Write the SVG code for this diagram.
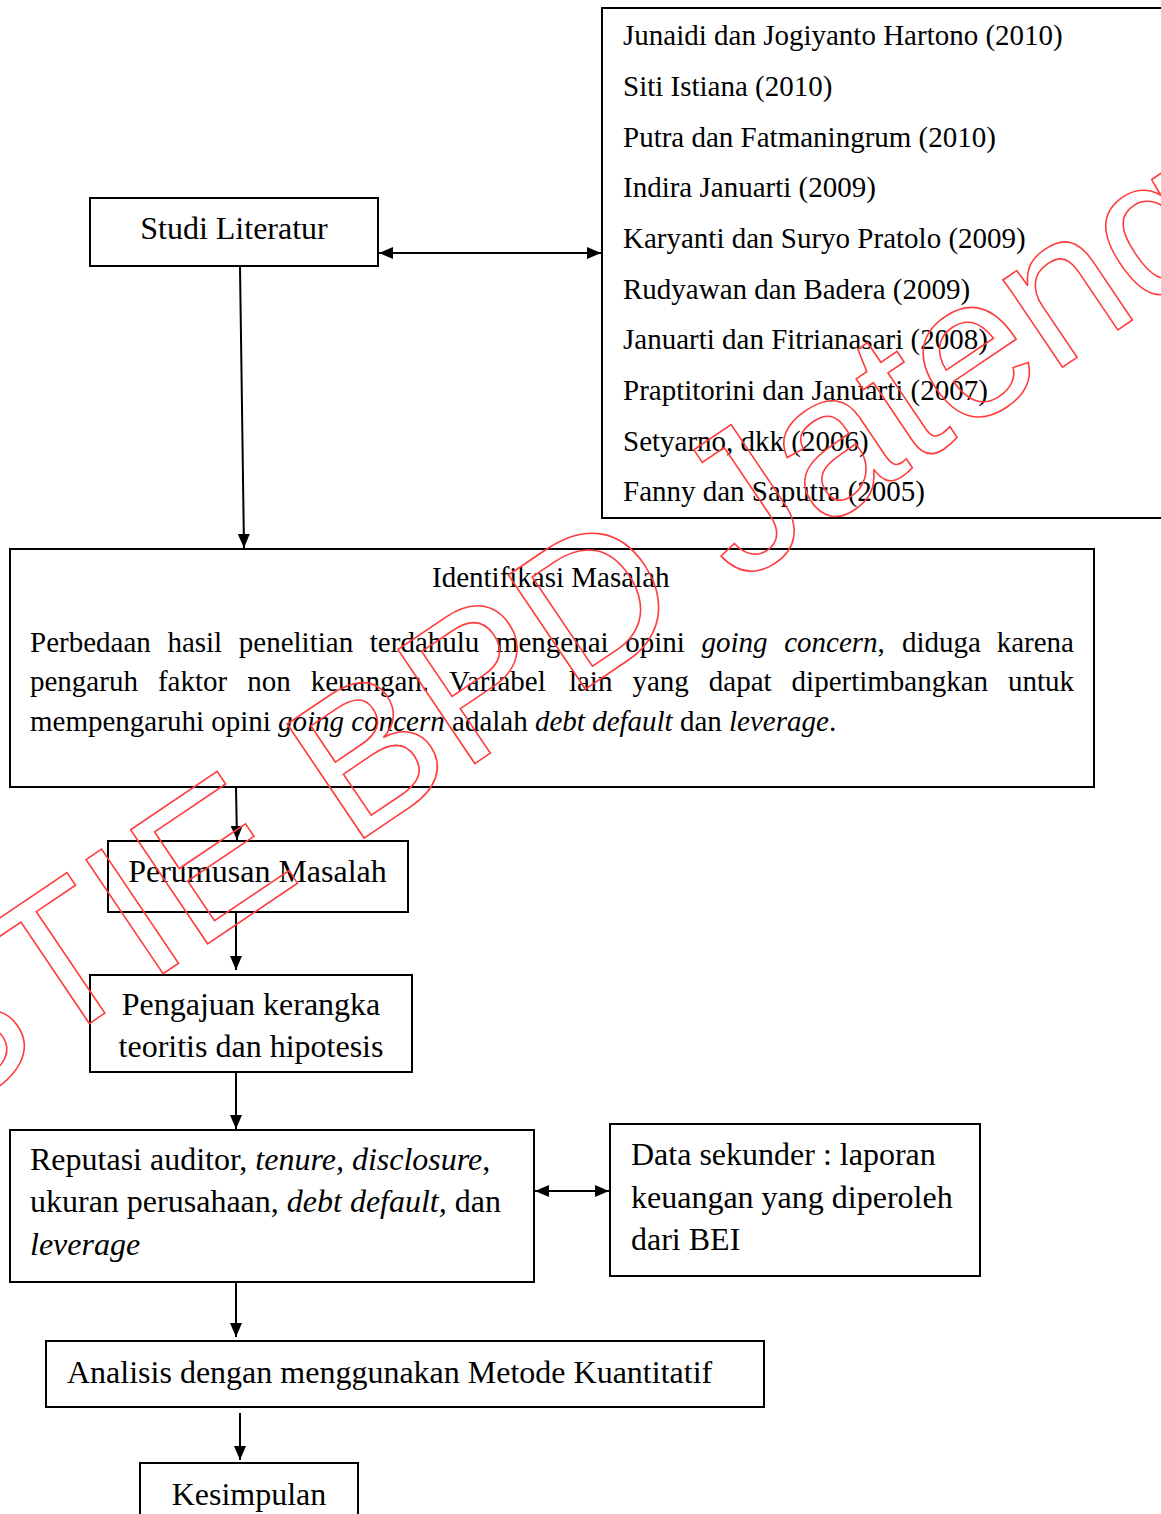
<svg xmlns="http://www.w3.org/2000/svg" width="1161" height="1514" viewBox="0 0 1161 1514">
<style>
.box{fill:#fff;stroke:#000;stroke-width:2}
.t{font-family:"Liberation Serif","Times New Roman",serif;fill:#000}
.s29{font-size:29px}
.s32{font-size:32px}
.i{font-style:italic}
.c{stroke:#000;stroke-width:2;fill:none}
.wm{font-family:"Liberation Sans",Arial,sans-serif;font-size:200px;fill:none;stroke:#ff3d3d;stroke-width:1.6}
</style>
<defs>
<marker id="ah" markerUnits="userSpaceOnUse" markerWidth="14" markerHeight="12" refX="14" refY="6" orient="auto-start-reverse">
<path d="M0,0 L14,6 L0,12 z" fill="#000"/>
</marker>
</defs>
<rect width="1161" height="1514" fill="#fff"/>

<g id="studi-literatur">
<rect class="box" x="90" y="198" width="288" height="68"/>
<text class="t s32" x="234" y="239" text-anchor="middle">Studi Literatur</text>
</g>

<g id="referensi">
<rect class="box" x="602" y="8" width="600" height="510"/>
<text class="t s29" x="623" y="45">Junaidi dan Jogiyanto Hartono (2010)</text>
<text class="t s29" x="623" y="96">Siti Istiana (2010)</text>
<text class="t s29" x="623" y="147">Putra dan Fatmaningrum (2010)</text>
<text class="t s29" x="623" y="197">Indira Januarti (2009)</text>
<text class="t s29" x="623" y="248">Karyanti dan Suryo Pratolo (2009)</text>
<text class="t s29" x="623" y="299">Rudyawan dan Badera (2009)</text>
<text class="t s29" x="623" y="349">Januarti dan Fitrianasari (2008)</text>
<text class="t s29" x="623" y="400">Praptitorini dan Januarti (2007)</text>
<text class="t s29" x="623" y="451">Setyarno, dkk (2006)</text>
<text class="t s29" x="623" y="501">Fanny dan Saputra (2005)</text>
</g>

<g id="identifikasi-masalah">
<rect class="box" x="10" y="549" width="1084" height="238"/>
<text class="t s29" x="432" y="587">Identifikasi Masalah</text>
<text class="t s29" y="652"><tspan x="30">Perbedaan</tspan><tspan x="167.4">hasil</tspan><tspan x="238.8">penelitian</tspan><tspan x="369.8">terdahulu</tspan><tspan x="495.9">mengenai</tspan><tspan x="625.3">opini</tspan><tspan x="701.5" class="i">going</tspan><tspan x="784.2"><tspan class="i">concern</tspan>,</tspan><tspan x="902">diduga</tspan><tspan x="1074" text-anchor="end">karena</tspan></text>
<text class="t s29" y="691"><tspan x="30">pengaruh</tspan><tspan x="157.9">faktor</tspan><tspan x="247.2">non</tspan><tspan x="310.7">keuangan.</tspan><tspan x="449.1">Variabel</tspan><tspan x="568.9">lain</tspan><tspan x="632.4">yang</tspan><tspan x="708.8">dapat</tspan><tspan x="791.6">dipertimbangkan</tspan><tspan x="1074" text-anchor="end">untuk</tspan></text>
<text class="t s29" x="30" y="731">mempengaruhi opini <tspan class="i">going concern</tspan> adalah <tspan class="i">debt default</tspan> dan <tspan class="i">leverage</tspan>.</text>
</g>

<g id="perumusan-masalah">
<rect class="box" x="108" y="841" width="300" height="71"/>
<text class="t s32" x="257.5" y="882" text-anchor="middle">Perumusan Masalah</text>
</g>

<g id="pengajuan">
<rect class="box" x="90" y="975" width="322" height="97"/>
<text class="t s32" x="251" y="1015" text-anchor="middle">Pengajuan kerangka</text>
<text class="t s32" x="251" y="1057" text-anchor="middle">teoritis dan hipotesis</text>
</g>

<g id="variabel">
<rect class="box" x="10" y="1130" width="524" height="152"/>
<text class="t s32" x="30" y="1170">Reputasi auditor, <tspan class="i">tenure, disclosure</tspan>,</text>
<text class="t s32" x="30" y="1212">ukuran perusahaan, <tspan class="i">debt default,</tspan> dan</text>
<text class="t s32 i" x="30" y="1255">leverage</text>
</g>

<g id="data-sekunder">
<rect class="box" x="610" y="1124" width="370" height="152"/>
<text class="t s32" x="631" y="1165">Data sekunder : laporan</text>
<text class="t s32" x="631" y="1208">keuangan yang diperoleh</text>
<text class="t s32" x="631" y="1250">dari BEI</text>
</g>

<g id="analisis">
<rect class="box" x="46" y="1341" width="718" height="66"/>
<text class="t s32" x="67" y="1383">Analisis dengan menggunakan Metode Kuantitatif</text>
</g>

<g id="kesimpulan">
<rect class="box" x="140" y="1463" width="218" height="70"/>
<text class="t s32" x="249" y="1505" text-anchor="middle">Kesimpulan</text>
</g>

<g id="connectors">
<line class="c" x1="379" y1="253" x2="601" y2="253" marker-start="url(#ah)" marker-end="url(#ah)"/>
<line class="c" x1="240" y1="267" x2="244" y2="548" marker-end="url(#ah)"/>
<line class="c" x1="236" y1="788" x2="237" y2="840" marker-end="url(#ah)"/>
<line class="c" x1="236" y1="913" x2="236" y2="970" marker-end="url(#ah)"/>
<line class="c" x1="236" y1="1073" x2="236" y2="1129" marker-end="url(#ah)"/>
<line class="c" x1="535" y1="1191" x2="609" y2="1191" marker-start="url(#ah)" marker-end="url(#ah)"/>
<line class="c" x1="236" y1="1283" x2="236" y2="1337" marker-end="url(#ah)"/>
<line class="c" x1="240" y1="1413" x2="240" y2="1460" marker-end="url(#ah)"/>
</g>

<g id="watermark">
<text class="wm" x="-64" y="1127" transform="rotate(-34 -64 1127)">STIE BPD Jateng</text>
</g>
</svg>
